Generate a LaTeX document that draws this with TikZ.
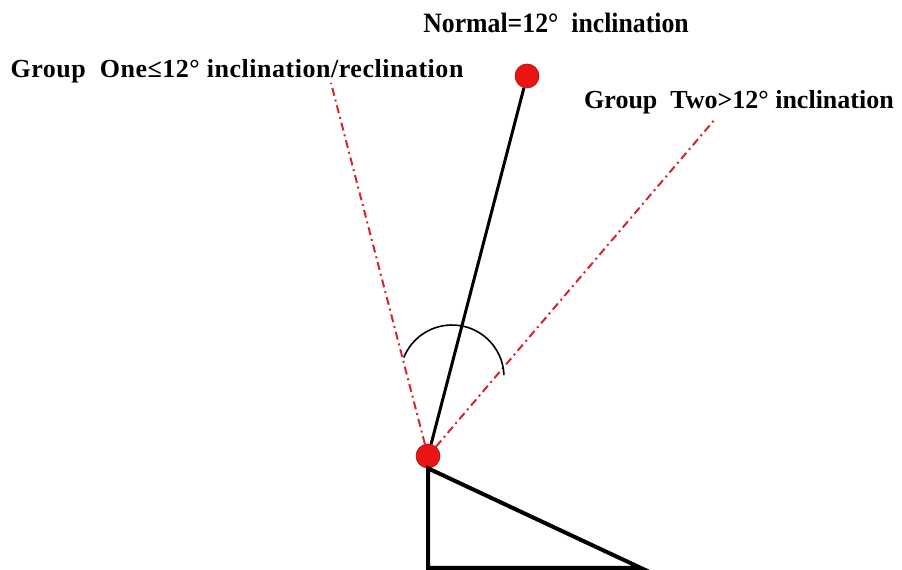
\documentclass[tikz,border=0pt]{standalone}
\usepackage{fontspec}
\setmainfont{Liberation Serif}
\newfontfamily\narrowfont[FakeStretch=0.92]{Liberation Serif}
\newfontfamily\spacedfont[LetterSpace=2]{Liberation Serif}
\usepackage{xcolor}
\usepackage{tikz}
\usetikzlibrary{positioning,calc}

\definecolor{dotred}{RGB}{235,20,20}
\definecolor{dashred}{RGB}{215,35,45}

\begin{document}
\begin{tikzpicture}[x=1pt, y=1pt,
  dot/.style={circle, fill=dotred, draw=dotred!70!black, line width=0.6pt, minimum size=24pt, inner sep=0pt},
  lbl/.style={font=\fontsize{26}{30}\selectfont\bfseries, inner sep=0pt, anchor=base},
  dashdot/.style={dashred, line width=2pt, dash pattern=on 8pt off 4pt on 2pt off 4pt},
  bar/.style={line width=3pt, black}
]
\useasboundingbox (0,0) rectangle (902,570);
% points
\node[dot] (pt) at (527,494) {};
\node[dot] (pb) at (428,114) {};
\coordinate (gl) at (331,487);
\coordinate (gr) at (716,452);
\coordinate (ac) at (452,193);
\coordinate (t1) at (428,2);
\coordinate (t2) at (641,2);
% labels
\node[lbl, font=\fontsize{28}{32}\narrowfont\bfseries] (normal) at (556,537) {Normal=12°\ \ inclination};
\node[lbl, font=\fontsize{26}{30}\spacedfont\bfseries] (gone) at (237,492) {Group\ \ One≤12° inclination/reclination};
\node[lbl] (gtwo) at (739,461) {Group\ \ Two>12° inclination};
% lines
\draw[dashdot] (pb) -- (gl);
\draw[dashdot] (pb) -- (gr);
\draw[bar] (pb) -- (pt);
\draw[line width=1.6pt] ([shift={(2:52)}]ac) arc[start angle=2, end angle=158, radius=52];
\draw[line width=4pt, line join=miter] (pb.south) -- (t1) -- (t2) -- cycle;
\end{tikzpicture}
\end{document}
